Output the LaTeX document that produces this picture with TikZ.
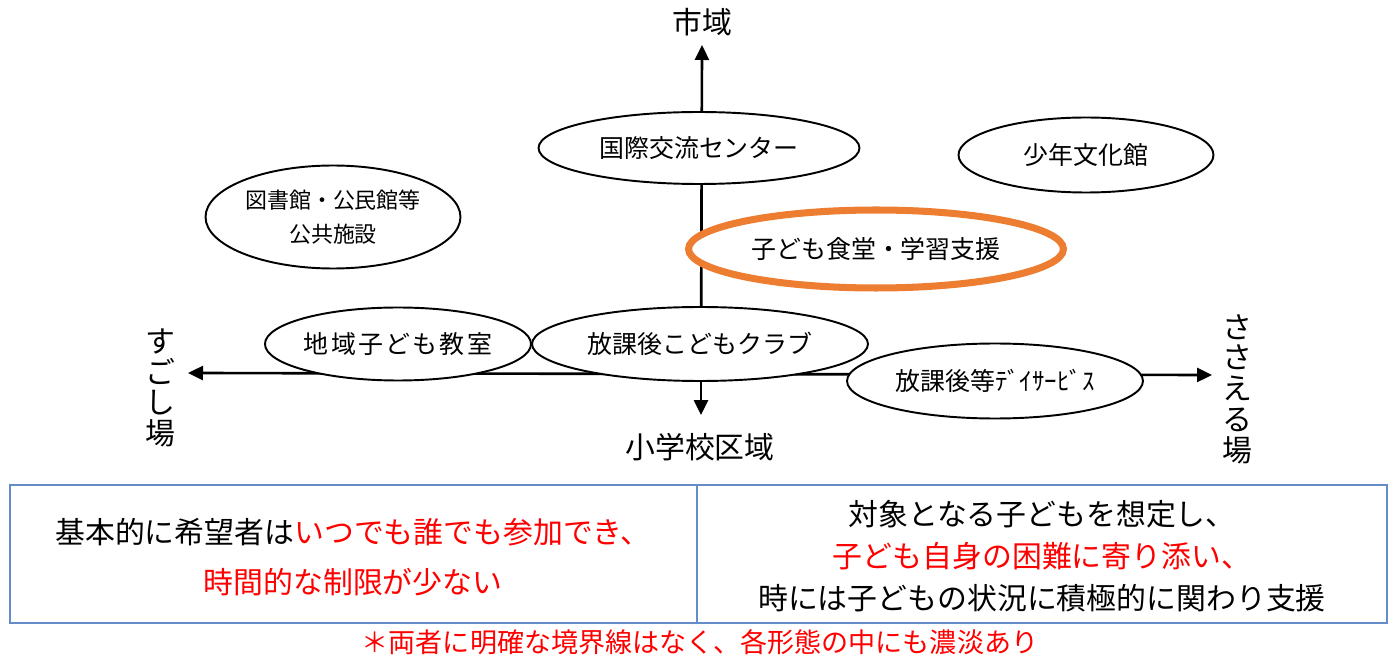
\documentclass[tikz,border=0pt]{standalone}
\usepackage{fontspec}
\setmainfont{Noto Sans CJK JP}
\usepackage{xcolor}
\definecolor{mtorange}{RGB}{237,125,49}
\definecolor{mtred}{RGB}{255,0,0}
\definecolor{mtblue}{RGB}{100,140,200}
\usepackage{tikz}
\usetikzlibrary{arrows.meta, shapes.geometric}

\begin{document}
\begin{tikzpicture}[x=0.02cm, y=-0.02cm,
  blob/.style={ellipse, draw, line width=1.1pt, fill=white, inner sep=0pt, align=center,
    font=\fontsize{14.2pt}{17pt}\selectfont},
  axis/.style={line width=1.5pt, -{Triangle[length=0.3cm, width=0.28cm]}},
  axislabel/.style={font=\fontsize{17pt}{17.5pt}\selectfont, align=center},
  celltext/.style={font=\fontsize{17pt}{28.5pt}\selectfont, align=center}]
  \useasboundingbox (0,0) rectangle (1400,665);

  % --- Axes ---
  \coordinate (o) at (701,374);
  \coordinate (top) at (702,45);
  \coordinate (bottom) at (701,415);
  \coordinate (left) at (188,373);
  \coordinate (right) at (1212,375);
  \draw[axis] (o) -- (top);
  \draw[axis] (o) -- (bottom);
  \draw[axis] (o) -- (left);
  \draw[axis] (o) -- (right);
  \node[axislabel] (city) at (702,22) {市域};
  \node[axislabel] (school) at (700,447) {小学校区域};
  \node[axislabel] (sugosu) at (160,388) {す\\ご\\し\\場};
  \node[axislabel] (sasaeru) at (1237,389) {さ\\さ\\え\\る\\場};

  % --- Places ---
  \node[blob, minimum width=6.42cm, minimum height=1.44cm] (kokusai) at (699,148) {国際交流センター};
  \node[blob, minimum width=5.1cm, minimum height=1.5cm] (shonen) at (1086,155) {少年文化館};
  \node[blob, minimum width=5.1cm, minimum height=2.06cm,
    font=\fontsize{12.5pt}{19.5pt}\selectfont] (tosho) at (333,217) {図書館・公民館等\\公共施設};
  % highlighted
  \node[blob, draw=mtorange, line width=4pt, minimum width=7.5cm, minimum height=1.56cm] (shokudo) at (876,249) {子ども食堂・学習支援};
  \node[blob, minimum width=5.1cm, minimum height=1.46cm] (chiiki) at (398,344) {\addfontfeature{LetterSpace=9}地域子ども教室};
  \node[blob, minimum width=6.72cm, minimum height=1.48cm] (club) at (700,344) {放課後こどもクラブ};
  \node[blob, minimum width=5.92cm, minimum height=1.5cm] (day) at (995,381) {放課後等ﾃﾞｲｻｰﾋﾞｽ};

  % --- Table ---
  \draw[mtblue, line width=1pt] (10,485) rectangle (1387,623);
  \draw[mtblue, line width=1pt] (697,485) -- (697,623);
  \node[celltext] (open) at (353,557) {基本的に希望者は\textcolor{mtred}{いつでも誰でも参加でき、}\\\textcolor{mtred}{時間的な制限が少ない}};
  \node[celltext, font=\fontsize{17pt}{24pt}\selectfont] (target) at (1042,556) {対象となる子どもを想定し、\\\textcolor{mtred}{子ども自身の困難に寄り添い、}\\時には子どもの状況に積極的に関わり支援};
  \node[font=\fontsize{15.4pt}{18pt}\selectfont, text=mtred] (note) at (700,642) {＊両者に明確な境界線はなく、各形態の中にも濃淡あり};
\end{tikzpicture}
\end{document}
